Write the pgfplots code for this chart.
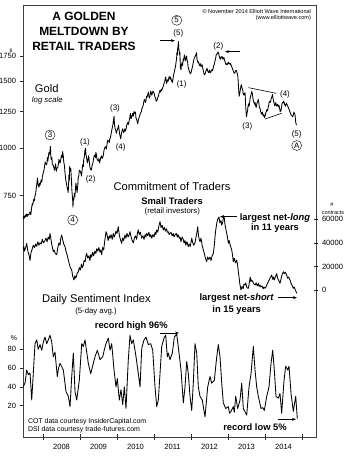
\documentclass[border=0pt]{standalone}
\usepackage{pgfplots}
\pgfplotsset{compat=1.18}
\usepackage{fontspec}
\setmainfont{Liberation Sans}
\usetikzlibrary{arrows.meta}
\newcommand{\fs}[1]{\fontsize{#1}{#1}\selectfont}
\begin{document}
\begin{tikzpicture}
\pgfplotsset{
  base/.style={scale only axis, width=293bp, height=432bp, at={(23bp,19bp)}, anchor=south west,
    xmin=2007.459, xmax=2015.378, /pgf/number format/assume math mode=true,
    tick label style={font=\fs{7.6}}, tick style={black!85, line width=0.6bp}},
  over/.style={base, hide x axis, axis line style={draw=none}, scaled y ticks=false,
    yminorticks=false},
  dl/.style={black, line width=0.85bp, line join=round, mark=none},
}
% frame
\begin{axis}[base, ymin=0, ymax=1, ytick=\empty, xtick={2008,2009,2010,2011,2012,2013,2014,2015},
  xticklabels={}, xtick pos=left, tick align=center, major tick length=5bp,
  extra x ticks={2008.5,2009.5,2010.5,2011.5,2012.5,2013.5,2014.5},
  extra x tick labels={2008,2009,2010,2011,2012,2013,2014},
  extra x tick style={major tick length=0pt, tick style={draw=none}, xticklabel style={yshift=-4bp}},
  axis line style={black!75, line width=0.8bp}]
\end{axis}
% gold
\begin{axis}[over, ymode=log, ymin=173.8, ymax=2383, ytick={750,1000,1250,1500,1750},
  yticklabels={750,1000,1250,1500,1750}, ytick pos=left, yticklabel pos=left, tick align=outside, major tick length=3.5bp]
\addplot[dl] coordinates {
(2007.46,650)(2007.48,662)(2007.50,655)(2007.52,668)(2007.54,660)(2007.56,672)(2007.58,662)(2007.60,670)(2007.62,668)(2007.65,680)(2007.67,668)(2007.69,695)(2007.71,715)(2007.72,708)(2007.75,735)(2007.77,728)(2007.78,748)(2007.80,760)(2007.81,775)(2007.83,800)(2007.85,835)(2007.87,800)(2007.89,790)(2007.91,810)(2007.92,800)(2007.95,825)(2007.97,815)(2007.98,840)
(2008.01,865)(2008.03,880)(2008.04,895)(2008.06,920)(2008.07,910)(2008.10,905)(2008.12,945)(2008.13,925)(2008.16,975)(2008.18,965)(2008.20,1011)(2008.21,960)(2008.22,935)(2008.24,945)(2008.25,910)(2008.28,900)(2008.30,885)(2008.31,875)(2008.34,910)(2008.36,870)(2008.37,885)(2008.40,890)(2008.42,915)(2008.43,935)(2008.46,915)(2008.48,935)(2008.50,960)(2008.52,945)(2008.53,980)(2008.55,950)(2008.56,920)(2008.58,900)(2008.59,870)(2008.61,835)(2008.62,820)(2008.64,800)(2008.65,790)(2008.67,775)(2008.68,765)(2008.69,800)(2008.70,850)(2008.71,820)(2008.72,895)(2008.74,870)(2008.75,885)(2008.77,820)(2008.78,775)(2008.80,735)(2008.81,700)(2008.82,740)(2008.83,730)(2008.85,760)(2008.86,745)(2008.88,790)(2008.89,810)(2008.91,780)(2008.92,765)(2008.94,800)(2008.95,835)(2008.97,850)(2008.98,875)
(2009.01,870)(2009.03,855)(2009.04,845)(2009.06,880)(2009.07,905)(2009.09,895)(2009.10,935)(2009.12,950)(2009.13,985)(2009.15,1000)(2009.16,965)(2009.18,940)(2009.20,915)(2009.21,925)(2009.23,955)(2009.24,945)(2009.26,905)(2009.27,890)(2009.29,880)(2009.30,875)(2009.32,890)(2009.33,905)(2009.35,915)(2009.36,930)(2009.38,955)(2009.40,960)(2009.42,945)(2009.43,975)(2009.45,955)(2009.46,935)(2009.48,930)(2009.50,925)(2009.51,940)(2009.53,915)(2009.55,935)(2009.56,945)(2009.58,955)(2009.60,940)(2009.62,950)(2009.63,960)(2009.65,990)(2009.66,995)(2009.68,1010)(2009.70,1005)(2009.71,995)(2009.73,1025)(2009.75,1050)(2009.77,1045)(2009.79,1035)(2009.80,1055)(2009.82,1065)(2009.84,1090)(2009.85,1105)(2009.87,1130)(2009.88,1140)(2009.90,1175)(2009.92,1215)(2009.93,1160)(2009.95,1125)(2009.97,1110)(2009.98,1095)
(2010.01,1120)(2010.03,1135)(2010.04,1150)(2010.06,1110)(2010.07,1090)(2010.09,1070)(2010.10,1060)(2010.12,1095)(2010.13,1105)(2010.15,1125)(2010.16,1120)(2010.18,1100)(2010.20,1110)(2010.21,1125)(2010.23,1110)(2010.25,1130)(2010.26,1150)(2010.28,1160)(2010.29,1170)(2010.31,1155)(2010.33,1185)(2010.35,1210)(2010.36,1235)(2010.38,1195)(2010.39,1205)(2010.41,1220)(2010.42,1235)(2010.44,1215)(2010.46,1250)(2010.48,1235)(2010.50,1245)(2010.51,1205)(2010.53,1190)(2010.55,1170)(2010.56,1160)(2010.58,1190)(2010.59,1200)(2010.61,1215)(2010.62,1225)(2010.64,1240)(2010.66,1250)(2010.67,1270)(2010.69,1280)(2010.71,1300)(2010.72,1320)(2010.74,1345)(2010.75,1340)(2010.77,1320)(2010.78,1335)(2010.80,1370)(2010.81,1360)(2010.83,1385)(2010.85,1405)(2010.86,1370)(2010.88,1355)(2010.90,1390)(2010.91,1415)(2010.93,1395)(2010.94,1380)(2010.96,1400)(2010.97,1415)
(2011.00,1400)(2011.02,1370)(2011.04,1355)(2011.05,1340)(2011.07,1330)(2011.09,1345)(2011.10,1360)(2011.12,1370)(2011.13,1390)(2011.15,1410)(2011.16,1420)(2011.18,1405)(2011.20,1430)(2011.21,1420)(2011.23,1440)(2011.25,1455)(2011.26,1470)(2011.28,1490)(2011.29,1500)(2011.31,1540)(2011.32,1530)(2011.34,1480)(2011.35,1495)(2011.37,1515)(2011.38,1500)(2011.40,1530)(2011.41,1545)(2011.43,1520)(2011.44,1540)(2011.46,1525)(2011.47,1500)(2011.49,1510)(2011.50,1490)(2011.52,1540)(2011.53,1560)(2011.55,1590)(2011.56,1610)(2011.58,1640)(2011.59,1670)(2011.61,1720)(2011.62,1790)(2011.63,1760)(2011.64,1830)(2011.65,1860)(2011.66,1910)(2011.67,1830)(2011.68,1800)(2011.69,1760)(2011.70,1790)(2011.71,1650)(2011.72,1620)(2011.73,1610)(2011.74,1660)(2011.76,1680)(2011.77,1650)(2011.79,1720)(2011.80,1700)(2011.82,1760)(2011.83,1740)(2011.85,1700)(2011.86,1725)(2011.88,1750)(2011.89,1710)(2011.91,1680)(2011.92,1640)(2011.94,1610)(2011.96,1590)(2011.98,1570)
(2012.00,1580)(2012.02,1610)(2012.04,1640)(2012.05,1660)(2012.07,1700)(2012.08,1720)(2012.10,1735)(2012.11,1745)(2012.13,1760)(2012.15,1785)(2012.16,1720)(2012.17,1700)(2012.19,1680)(2012.20,1690)(2012.22,1660)(2012.23,1650)(2012.25,1670)(2012.27,1640)(2012.28,1650)(2012.30,1660)(2012.32,1620)(2012.34,1590)(2012.35,1570)(2012.37,1560)(2012.39,1580)(2012.40,1595)(2012.42,1610)(2012.43,1625)(2012.45,1600)(2012.46,1590)(2012.48,1580)(2012.50,1605)(2012.51,1590)(2012.53,1580)(2012.55,1600)(2012.56,1610)(2012.58,1600)(2012.60,1625)(2012.61,1645)(2012.63,1665)(2012.65,1700)(2012.67,1735)(2012.68,1760)(2012.70,1770)(2012.72,1780)(2012.73,1795)(2012.75,1770)(2012.76,1750)(2012.78,1725)(2012.79,1715)(2012.81,1740)(2012.82,1730)(2012.84,1745)(2012.86,1715)(2012.87,1725)(2012.89,1735)(2012.90,1710)(2012.92,1690)(2012.94,1665)(2012.95,1660)(2012.97,1670)(2012.98,1660)
(2013.01,1685)(2013.02,1670)(2013.04,1675)(2013.06,1660)(2013.07,1670)(2013.09,1650)(2013.10,1640)(2013.12,1620)(2013.13,1610)(2013.15,1590)(2013.16,1580)(2013.18,1575)(2013.20,1595)(2013.21,1600)(2013.23,1605)(2013.24,1585)(2013.26,1560)(2013.27,1530)(2013.28,1470)(2013.29,1420)(2013.30,1370)(2013.32,1400)(2013.33,1420)(2013.35,1460)(2013.36,1470)(2013.38,1440)(2013.40,1420)(2013.41,1390)(2013.43,1380)(2013.44,1395)(2013.46,1400)(2013.47,1340)(2013.48,1280)(2013.49,1240)(2013.50,1210)(2013.51,1230)(2013.53,1260)(2013.54,1290)(2013.56,1310)(2013.57,1290)(2013.59,1330)(2013.60,1360)(2013.62,1380)(2013.63,1395)(2013.64,1410)(2013.66,1390)(2013.67,1360)(2013.69,1330)(2013.70,1320)(2013.72,1305)(2013.73,1320)(2013.75,1290)(2013.76,1280)(2013.78,1310)(2013.79,1320)(2013.81,1335)(2013.82,1345)(2013.84,1300)(2013.85,1280)(2013.87,1270)(2013.88,1250)(2013.90,1235)(2013.91,1230)(2013.93,1245)(2013.95,1215)(2013.97,1225)(2013.99,1205)
(2014.01,1225)(2014.02,1240)(2014.04,1250)(2014.05,1265)(2014.07,1255)(2014.08,1275)(2014.10,1300)(2014.11,1320)(2014.13,1330)(2014.14,1320)(2014.16,1340)(2014.17,1355)(2014.19,1370)(2014.20,1385)(2014.22,1350)(2014.23,1330)(2014.25,1310)(2014.26,1295)(2014.28,1300)(2014.29,1320)(2014.31,1295)(2014.32,1290)(2014.34,1305)(2014.35,1300)(2014.37,1285)(2014.38,1295)(2014.40,1265)(2014.41,1250)(2014.43,1255)(2014.44,1270)(2014.46,1310)(2014.47,1320)(2014.49,1315)(2014.50,1330)(2014.52,1320)(2014.53,1305)(2014.55,1290)(2014.56,1300)(2014.58,1315)(2014.59,1305)(2014.61,1295)(2014.62,1285)(2014.64,1275)(2014.65,1265)(2014.67,1250)(2014.69,1235)(2014.70,1225)(2014.72,1220)(2014.73,1215)(2014.75,1210)(2014.77,1230)(2014.78,1245)(2014.80,1235)(2014.81,1225)(2014.82,1200)(2014.83,1170)(2014.84,1160)(2014.85,1150)};
\addplot[black, line width=0.6bp] coordinates {(2013.55,1444)(2014.30,1395)};
\addplot[black, line width=0.6bp] coordinates {(2014.00,1194)(2014.45,1236)};
\end{axis}
% COT
\begin{axis}[over, ymin=-124780, ymax=241900, ytick={0,20000,40000,60000},
  yticklabels={0,20000,40000,60000}, ytick pos=right, yticklabel pos=right, tick align=center, major tick length=5bp]
\addplot[dl] coordinates {
(2007.459,34000)(2007.48,37000)(2007.50,33000)(2007.53,36000)(2007.559,39600)(2007.59,33000)(2007.62,30000)(2007.649,25000)(2007.67,31000)(2007.70,34000)(2007.738,38000)(2007.77,36000)(2007.80,39000)(2007.83,37000)(2007.86,41000)(2007.89,38000)(2007.919,40000)(2007.95,39000)(2007.98,43000)(2008.01,40000)(2008.054,42000)(2008.08,44000)(2008.11,41000)(2008.14,45000)(2008.17,43000)(2008.189,48000)(2008.21,44000)(2008.24,38000)(2008.278,32500)(2008.30,34000)(2008.33,31000)(2008.370,30000)(2008.40,36000)(2008.43,40000)(2008.46,38000)(2008.48,44000)(2008.505,46700)(2008.53,43000)(2008.56,39000)(2008.595,36800)(2008.62,33000)(2008.65,30000)(2008.684,25500)(2008.71,22000)(2008.74,19000)(2008.776,17000)(2008.80,12000)(2008.838,8500)(2008.86,12000)(2008.89,10000)(2008.92,14000)(2008.954,15500)(2008.98,19000)(2009.01,17000)(2009.04,22000)(2009.06,19000)(2009.089,21000)(2009.11,25000)(2009.14,24000)(2009.16,29000)(2009.181,31000)(2009.21,27000)(2009.24,29000)(2009.27,25000)(2009.29,30000)(2009.316,28000)(2009.34,32000)(2009.37,29000)(2009.40,33000)(2009.43,31000)(2009.451,35000)(2009.48,33000)(2009.51,36000)(2009.54,32000)(2009.56,34000)(2009.586,30000)(2009.61,36000)(2009.64,34000)(2009.67,42000)(2009.703,49500)(2009.73,47000)(2009.76,42000)(2009.79,46000)(2009.811,44000)(2009.84,47000)(2009.87,43000)(2009.90,48000)(2009.92,45000)(2009.946,46700)(2009.97,50000)(2010.00,48000)(2010.035,53700)(2010.06,47000)(2010.09,43000)(2010.127,39600)(2010.15,44000)(2010.18,42000)(2010.216,46700)(2010.24,44000)(2010.27,48000)(2010.30,45000)(2010.33,47000)(2010.351,49500)(2010.38,45000)(2010.41,42000)(2010.441,40000)(2010.47,44000)(2010.50,46000)(2010.53,43000)(2010.55,48000)(2010.576,51000)(2010.60,47000)(2010.63,49000)(2010.668,44000)(2010.70,46000)(2010.73,43000)(2010.76,47000)(2010.78,45000)(2010.803,48000)(2010.83,46000)(2010.86,49000)(2010.89,45000)(2010.91,47000)(2010.938,44000)(2010.97,47000)(2011.00,45000)(2011.03,49000)(2011.05,47000)(2011.073,51000)(2011.10,49000)(2011.13,54000)(2011.162,58000)(2011.19,53000)(2011.22,55000)(2011.251,51000)(2011.28,53000)(2011.31,50000)(2011.34,52000)(2011.36,49000)(2011.386,49500)(2011.41,47000)(2011.432,48000)(2011.46,49000)(2011.49,46000)(2011.52,48000)(2011.54,45000)(2011.568,46700)(2011.60,48000)(2011.63,45000)(2011.65,47000)(2011.68,44000)(2011.703,45000)(2011.73,41000)(2011.76,45000)(2011.79,43000)(2011.81,40000)(2011.838,42000)(2011.86,38000)(2011.89,41000)(2011.927,36800)(2011.95,39000)(2011.98,37000)(2012.019,44000)(2012.04,41000)(2012.07,38000)(2012.108,40000)(2012.13,44000)(2012.16,49000)(2012.181,53700)(2012.20,47000)(2012.22,43000)(2012.243,41000)(2012.27,44000)(2012.30,38000)(2012.332,34000)(2012.36,31000)(2012.39,27000)(2012.424,24000)(2012.45,28000)(2012.48,26000)(2012.514,28000)(2012.54,25000)(2012.57,29000)(2012.603,31000)(2012.63,38000)(2012.66,49000)(2012.695,56600)(2012.72,60000)(2012.757,62000)(2012.78,57000)(2012.81,59000)(2012.830,55000)(2012.86,58000)(2012.88,63000)(2012.900,61000)(2012.92,55000)(2012.94,52000)(2012.965,48000)(2012.99,44000)(2013.008,39600)(2013.03,42000)(2013.06,38000)(2013.08,36000)(2013.100,34000)(2013.12,30000)(2013.143,24000)(2013.17,27000)(2013.20,23000)(2013.235,25500)(2013.26,21000)(2013.28,15000)(2013.297,11300)(2013.32,5000)(2013.351,0)(2013.38,3000)(2013.41,1000)(2013.43,5000)(2013.459,4200)(2013.48,6000)(2013.51,2000)(2013.549,1400)(2013.57,5000)(2013.60,11000)(2013.62,7000)(2013.641,8500)(2013.67,7000)(2013.70,5000)(2013.730,4200)(2013.76,6000)(2013.79,3500)(2013.82,5500)(2013.84,3000)(2013.865,4200)(2013.89,2500)(2013.92,3500)(2013.95,1000)(2013.97,2500)(2014.000,1400)(2014.03,3000)(2014.06,5000)(2014.089,7000)(2014.12,9000)(2014.15,11000)(2014.181,12700)(2014.21,9000)(2014.230,11000)(2014.251,8500)(2014.28,11000)(2014.316,14000)(2014.34,10000)(2014.37,8000)(2014.405,5700)(2014.43,9000)(2014.46,13000)(2014.495,15500)(2014.52,14000)(2014.55,15000)(2014.586,12700)(2014.61,10000)(2014.64,11000)(2014.676,8500)(2014.70,6000)(2014.73,4000)(2014.765,1400)(2014.79,2500)(2014.82,0)(2014.857,-2800)};
\end{axis}
% DSI
\begin{axis}[over, ymin=-13.3, ymax=446.3, ytick={20,40,60,80}, yticklabels={20,40,60,80},
  ytick pos=left, yticklabel pos=left, tick align=outside, major tick length=3.5bp]
\addplot[dl] coordinates {
(2007.459,40)(2007.514,44)(2007.559,58)(2007.603,53)(2007.649,55)(2007.695,26)(2007.738,55)(2007.784,86)(2007.830,90)(2007.87,80)(2007.919,85)(2007.965,79)(2008.01,88)(2008.054,93)(2008.10,86)(2008.143,90)(2008.189,95)(2008.235,88)(2008.278,72)(2008.324,77)(2008.386,51)(2008.42,60)(2008.459,65)(2008.50,62)(2008.549,58)(2008.59,45)(2008.622,35)(2008.684,30)(2008.730,19)(2008.776,51)(2008.819,76)(2008.865,35)(2008.911,26)(2008.981,47)(2009.046,86)(2009.089,83)(2009.135,90)(2009.181,77)(2009.224,65)(2009.289,54)(2009.359,65)(2009.405,72)(2009.468,79)(2009.541,69)(2009.614,72)(2009.66,80)(2009.703,86)(2009.765,92)(2009.811,79)(2009.857,86)(2009.919,58)(2009.973,40)(2010.008,49)(2010.062,26)(2010.108,37)(2010.154,21)(2010.197,40)(2010.243,17)(2010.305,69)(2010.351,95)(2010.397,86)(2010.441,90)(2010.514,72)(2010.576,54)(2010.622,40)(2010.668,81)(2010.730,90)(2010.784,93)(2010.846,85)(2010.911,86)(2010.965,79)(2011.027,40)(2011.073,19)(2011.116,26)(2011.162,54)(2011.208,83)(2011.270,92)(2011.316,95)(2011.359,72)(2011.386,76)(2011.432,69)(2011.495,76)(2011.549,93)(2011.614,96)(2011.676,76)(2011.730,58)(2011.792,23)(2011.838,40)(2011.884,67)(2011.927,54)(2011.973,30)(2012.019,15)(2012.062,44)(2012.108,86)(2012.154,76)(2012.197,40)(2012.243,30)(2012.305,26)(2012.378,8)(2012.451,40)(2012.514,51)(2012.559,44)(2012.630,47)(2012.695,72)(2012.738,85)(2012.784,72)(2012.830,44)(2012.873,23)(2012.938,17)(2013.008,19)(2013.04,12)(2013.081,14)(2013.143,19)(2013.17,13)(2013.208,30)(2013.262,17)(2013.324,26)(2013.370,44)(2013.414,17)(2013.505,10)(2013.568,40)(2013.622,54)(2013.684,83)(2013.730,58)(2013.775,40)(2013.819,30)(2013.892,17)(2013.94,18)(2013.981,15)(2014.046,30)(2014.108,40)(2014.162,65)(2014.208,79)(2014.251,58)(2014.297,30)(2014.359,28)(2014.405,33)(2014.450,12)(2014.514,47)(2014.559,62)(2014.614,58)(2014.649,62)(2014.703,33)(2014.765,14)(2014.830,30)(2014.873,6)};
\end{axis}
% annotations in pixel coordinates
\begin{scope}[shift={(0bp,456bp)}, x=1bp, y=-1bp]
\node[font=\bfseries\fontsize{12}{15}\selectfont, align=center] at (84,31.5) {A GOLDEN\\MELTDOWN BY\\RETAIL TRADERS};
\node[anchor=east, font=\fs{5.6}] at (314.5,11.5) {\textcopyright{} November 2014 Elliott Wave International};
\node[anchor=east, font=\fs{5.6}] at (314.5,18.3) {(www.elliottwave.com)};
\node[font=\fs{5}] at (11,50.5) {\$};
\node[font=\fs{11.2}] at (46.7,88.3) {Gold};
\node[font=\itshape\fs{7.8}] at (47.3,100) {log scale};
\begin{scope}[every node/.style={font=\fs{8}}]
\node[circle, draw, inner sep=0pt, minimum size=10bp] at (50,135) {3};
\node at (85,142.7) {(1)};
\node at (90.7,179.3) {(2)};
\node[circle, draw, inner sep=0pt, minimum size=10bp] at (72.7,220) {4};
\node at (115,108.3) {(3)};
\node at (120.7,147.7) {(4)};
\node[circle, draw, inner sep=0pt, minimum size=10bp] at (176.7,20.3) {5};
\node at (178.3,33.3) {(5)};
\node at (181.7,84) {(1)};
\node at (218.3,46) {(2)};
\node at (247.3,126) {(3)};
\node at (285,94) {(4)};
\node at (296.7,134) {(5)};
\node[circle, draw, inner sep=0pt, minimum size=10bp] at (296.7,145.5) {A};
\end{scope}
\draw[-{Stealth[length=4bp,width=3bp]}, line width=0.7bp] (160,40.7) -- (175,40.7);
\draw[-{Stealth[length=4bp,width=3bp]}, line width=0.7bp] (240,51.7) -- (225,51.7);
\node[font=\fs{11.2}] at (172,187) {Commitment of Traders};
\node[font=\bfseries\fs{9.4}] at (172,200.7) {Small Traders};
\node[font=\fs{7.8}] at (172.3,211) {(retail investors)};
\node[font=\fs{5.5}] at (332,205) {\#};
\node[font=\fs{5.5}] at (333,212.5) {contracts};
\node[font=\bfseries\fs{9.4}] at (275,217.7) {largest net-\textit{long}};
\node[font=\bfseries\fs{9.4}] at (275,228.3) {in 11 years};
\draw[-{Stealth[length=4bp,width=3bp]}, line width=0.7bp] (237,216.7) -- (220,216.7);
\node[font=\bfseries\fs{9.4}] at (236.7,298.3) {largest net-\textit{short}};
\node[font=\bfseries\fs{9.4}] at (236.7,310) {in 15 years};
\draw[-{Stealth[length=4bp,width=3bp]}, line width=0.7bp] (278,297.7) -- (297,297.7);
\node[font=\fs{11.2}] at (96.5,299.3) {Daily Sentiment Index};
\node[font=\fs{7.8}] at (96,311) {(5-day avg.)};
\node[font=\fs{7}] at (14,338) {\%};
\node[font=\bfseries\fs{9.4}] at (131.3,326) {record high 96\%};
\draw[-{Stealth[length=4bp,width=3bp]}, line width=0.7bp] (160,333) -- (179,333);
\node[font=\bfseries\fs{9.4}] at (255,427.3) {record low 5\%};
\draw[-{Stealth[length=4bp,width=3bp]}, line width=0.7bp] (278,419.3) -- (296,419.3);
\node[anchor=west, font=\fs{7}] at (24.5,421.7) {COT data courtesy InsiderCapital.com};
\node[anchor=west, font=\fs{7}] at (24.5,430) {DSI data courtesy trade-futures.com};
\end{scope}
\pgfresetboundingbox
\path[use as bounding box] (0,0) rectangle (359bp,456bp);
\end{tikzpicture}
\end{document}
